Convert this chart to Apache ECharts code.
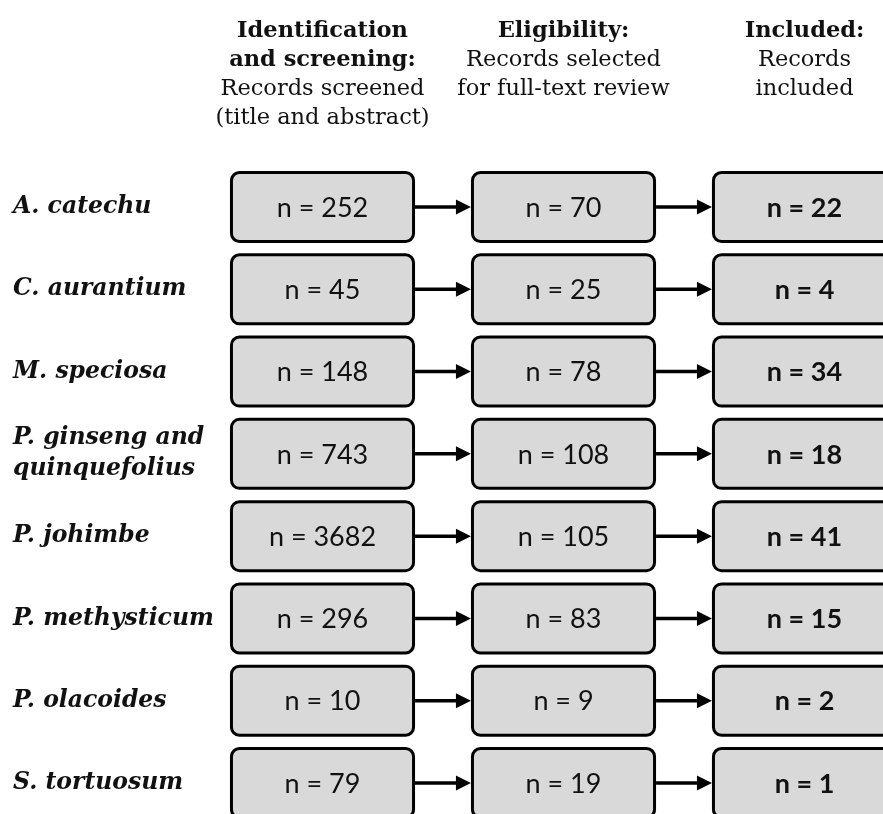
<!DOCTYPE html>
<html>
<head>
<meta charset="utf-8">
<script src="https://cdn.jsdelivr.net/npm/echarts@6/dist/echarts.min.js"></script>
<style>
html,body{margin:0;padding:0;background:#fff;}
#chart{width:883px;height:814px;}
</style>
</head>
<body>
<div id="chart"></div>
<script>
const species = ['A. catechu', 'C. aurantium', 'M. speciosa', 'P. ginseng and\nquinquefolius', 'P. johimbe', 'P. methysticum', 'P. olacoides', 'S. tortuosum'];
const screened = [252, 45, 148, 743, 3682, 296, 10, 79];
const eligible = [70, 25, 78, 108, 105, 83, 9, 19];
const included = [22, 4, 34, 18, 41, 15, 2, 1];
const stageHeaders = [
  '{b|Identification}\n{b|and screening:}\n{r|Records screened}\n{r|(title and abstract)}',
  '{b|Eligibility:}\n{r|Records selected}\n{r|for full-text review}',
  '{b|Included:}\n{r|Records}\n{r|included}'
];

// stage s is placed at x value s + 1, species i at y value i + 1 (both axes start at 0, step 1)
const stages = [screened, eligible, included];
const boxData = [];
stages.forEach((vals, s) => vals.forEach((v, i) => boxData.push([s + 1, i + 1, v])));

const chart = echarts.init(document.getElementById('chart'));
const serif = '"DejaVu Serif", serif';
const sans = 'Lato, "Open Sans", sans-serif';

const W = 883, H = 814;
const gridLeft = 81.5, colPx = 241;
const gridTop = 124.7, rowPx = 82.29;

function pick(list) {
  return function (v) {
    const k = Math.round(v);
    return (Math.abs(v - k) < 1e-6 && k >= 1 && k <= list.length) ? list[k - 1] : '';
  };
}

chart.setOption({
  animation: false,
  backgroundColor: '#ffffff',
  grid: { left: gridLeft, top: gridTop, right: 0, bottom: 0, containLabel: false },
  xAxis: {
    type: 'value',
    position: 'top',
    min: 0,
    max: (W - gridLeft) / colPx,
    interval: 1,
    axisLine: { show: false },
    axisTick: { show: false },
    splitLine: { show: false },
    axisLabel: {
      showMinLabel: true,
      showMaxLabel: false,
      margin: gridTop - 17,
      verticalAlign: 'top',
      align: 'center',
      color: '#111',
      fontFamily: serif,
      fontSize: 22.5,
      lineHeight: 29,
      formatter: pick(stageHeaders),
      rich: {
        b: { fontFamily: serif, fontSize: 22.5, fontWeight: 'bold', lineHeight: 29, color: '#111', align: 'center' },
        r: { fontFamily: serif, fontSize: 22.5, fontWeight: 'normal', lineHeight: 29, color: '#111', align: 'center' }
      }
    }
  },
  yAxis: {
    type: 'value',
    inverse: true,
    min: 0,
    max: (H - gridTop) / rowPx,
    interval: 1,
    axisLine: { show: false },
    axisTick: { show: false },
    splitLine: { show: false },
    axisLabel: {
      showMinLabel: true,
      showMaxLabel: false,
      align: 'left',
      margin: gridLeft - 13,
      padding: [6, 0, 0, 0],
      color: '#111',
      fontFamily: serif,
      fontStyle: 'italic',
      fontWeight: 'bold',
      fontSize: 23.5,
      lineHeight: 31,
      formatter: pick(species)
    }
  },
  series: [{
    type: 'custom',
    data: boxData,
    encode: { x: 0, y: 1 },
    clip: false,
    renderItem: function (params, api) {
      const col = api.value(0);
      const row = api.value(1);
      const val = api.value(2);
      const c = api.coord([col, row]);
      const unit = api.size([1, 1]);
      const w = unit[0] * 0.768;
      const h = unit[1] * 0.875;
      const children = [
        {
          type: 'rect',
          shape: { x: c[0] - w / 2 + 1.5, y: c[1] - h / 2 + 1.5, width: w - 3, height: h - 3, r: 8 },
          style: { fill: '#d9d9d9', stroke: '#000', lineWidth: 3 }
        },
        {
          type: 'text',
          style: {
            text: 'n = ' + val,
            x: c[0], y: c[1] + 1,
            align: 'center', verticalAlign: 'middle',
            fill: '#111',
            font: (col === stages.length ? 'bold ' : '') + '27px ' + sans
          }
        }
      ];
      if (col < stages.length) {
        const x0 = c[0] + w / 2;
        const x1 = c[0] + unit[0] - w / 2;
        const head = 15;
        children.push({
          type: 'line',
          shape: { x1: x0, y1: c[1], x2: x1 - head + 2, y2: c[1] },
          style: { stroke: '#000', lineWidth: 3.5 }
        });
        children.push({
          type: 'polygon',
          shape: { points: [[x1 - head, c[1] - 7.5], [x1, c[1]], [x1 - head, c[1] + 7.5]] },
          style: { fill: '#000' }
        });
      }
      return { type: 'group', children: children };
    }
  }]
});
</script>
</body>
</html>
